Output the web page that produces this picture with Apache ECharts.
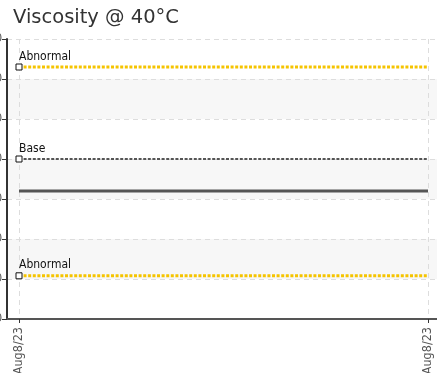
<!DOCTYPE html>
<html>
<head>
<meta charset="utf-8">
<script src="https://cdn.jsdelivr.net/npm/echarts@6/dist/echarts.min.js"></script>
<style>
  html, body { margin: 0; padding: 0; background: #fff; }
  #chart { width: 437px; height: 373px; }
</style>
</head>
<body>
<div id="chart"></div>
<script>
// data
const dates = ['Aug8/23', 'Aug8/23']
const upperAbnormal = [63, 63]
const base = [40, 40]
const measured = [32, 32]
const lowerAbnormal = [10.8, 10.8]
const yMin = 0, yMax = 70, yStep = 10

const chart = echarts.init(document.getElementById('chart'))

// first point gets the little square + label, second one nothing
const refLine = (name, vals, color, width) => ({
  name: name,
  type: 'line',
  xAxisIndex: 1,
  yAxisIndex: 1,
  data: vals.map((v, i) => i === 0
    ? { value: v, symbol: 'rect', label: { show: true, formatter: name } }
    : { value: v, symbol: 'none' }),
  symbolSize: 6,
  showAllSymbol: true,
  itemStyle: { color: '#fff', borderColor: '#111', borderWidth: 1 },
  lineStyle: { color: color, width: width, type: [3, 1.6] },
  label: {
    position: 'top', align: 'left', distance: 1,
    color: '#111', fontSize: 12, fontFamily: 'DejaVu Sans Condensed'
  },
  emphasis: { disabled: true },
  silent: true,
  z: 3
})

chart.setOption({
  animation: false,
  title: {
    text: 'Viscosity @ 40°C',
    left: 8, top: 3,
    textStyle: { fontFamily: 'DejaVu Sans', fontSize: 19.5, fontWeight: 'normal', color: '#333' }
  },
  grid: [
    // background grid, runs off the right edge; y labels fall off the left
    { left: 7, right: -10, top: 39, bottom: 54, outerBoundsMode: 'none', containLabel: false },
    // data grid
    { left: 19, right: 9, top: 39, bottom: 54, outerBoundsMode: 'none', containLabel: false }
  ],
  xAxis: [
    {
      type: 'value', gridIndex: 0, min: 0, max: 1,
      axisLine: { show: true, lineStyle: { color: '#555', width: 2 } },
      axisTick: { show: false }, axisLabel: { show: false }, splitLine: { show: false }
    },
    {
      type: 'category', gridIndex: 1, data: dates, boundaryGap: false,
      axisLine: { show: false },
      axisTick: { show: true, length: 4, lineStyle: { color: '#333' } },
      axisLabel: { rotate: 90, color: '#555', fontSize: 12.5, fontFamily: 'DejaVu Sans Condensed', margin: 8 },
      splitLine: { show: true, lineStyle: { color: '#ddd', type: [5, 4] } }
    }
  ],
  yAxis: [
    {
      type: 'value', gridIndex: 0, min: yMin, max: yMax, interval: yStep,
      axisLine: { show: true, lineStyle: { color: '#333', width: 2 } },
      axisTick: { show: true, length: 5, lineStyle: { color: '#333' } },
      axisLabel: { color: '#555', fontSize: 12, margin: 5 },
      splitLine: { show: true, lineStyle: { color: '#ddd', type: [5, 4] } },
      splitArea: { show: true, areaStyle: { color: ['#fff', '#f7f7f7'] } }
    },
    {
      type: 'value', gridIndex: 1, min: yMin, max: yMax, interval: yStep,
      show: false
    }
  ],
  series: [
    refLine('Abnormal', upperAbnormal, '#f5c400', 3),
    refLine('Base', base, '#555', 2),
    {
      name: 'Viscosity',
      type: 'line',
      xAxisIndex: 1,
      yAxisIndex: 1,
      data: measured,
      showSymbol: false,
      lineStyle: { color: '#555', width: 3 },
      emphasis: { disabled: true },
      silent: true,
      z: 3
    },
    refLine('Abnormal', lowerAbnormal, '#f5c400', 3)
  ]
})
</script>
</body>
</html>
